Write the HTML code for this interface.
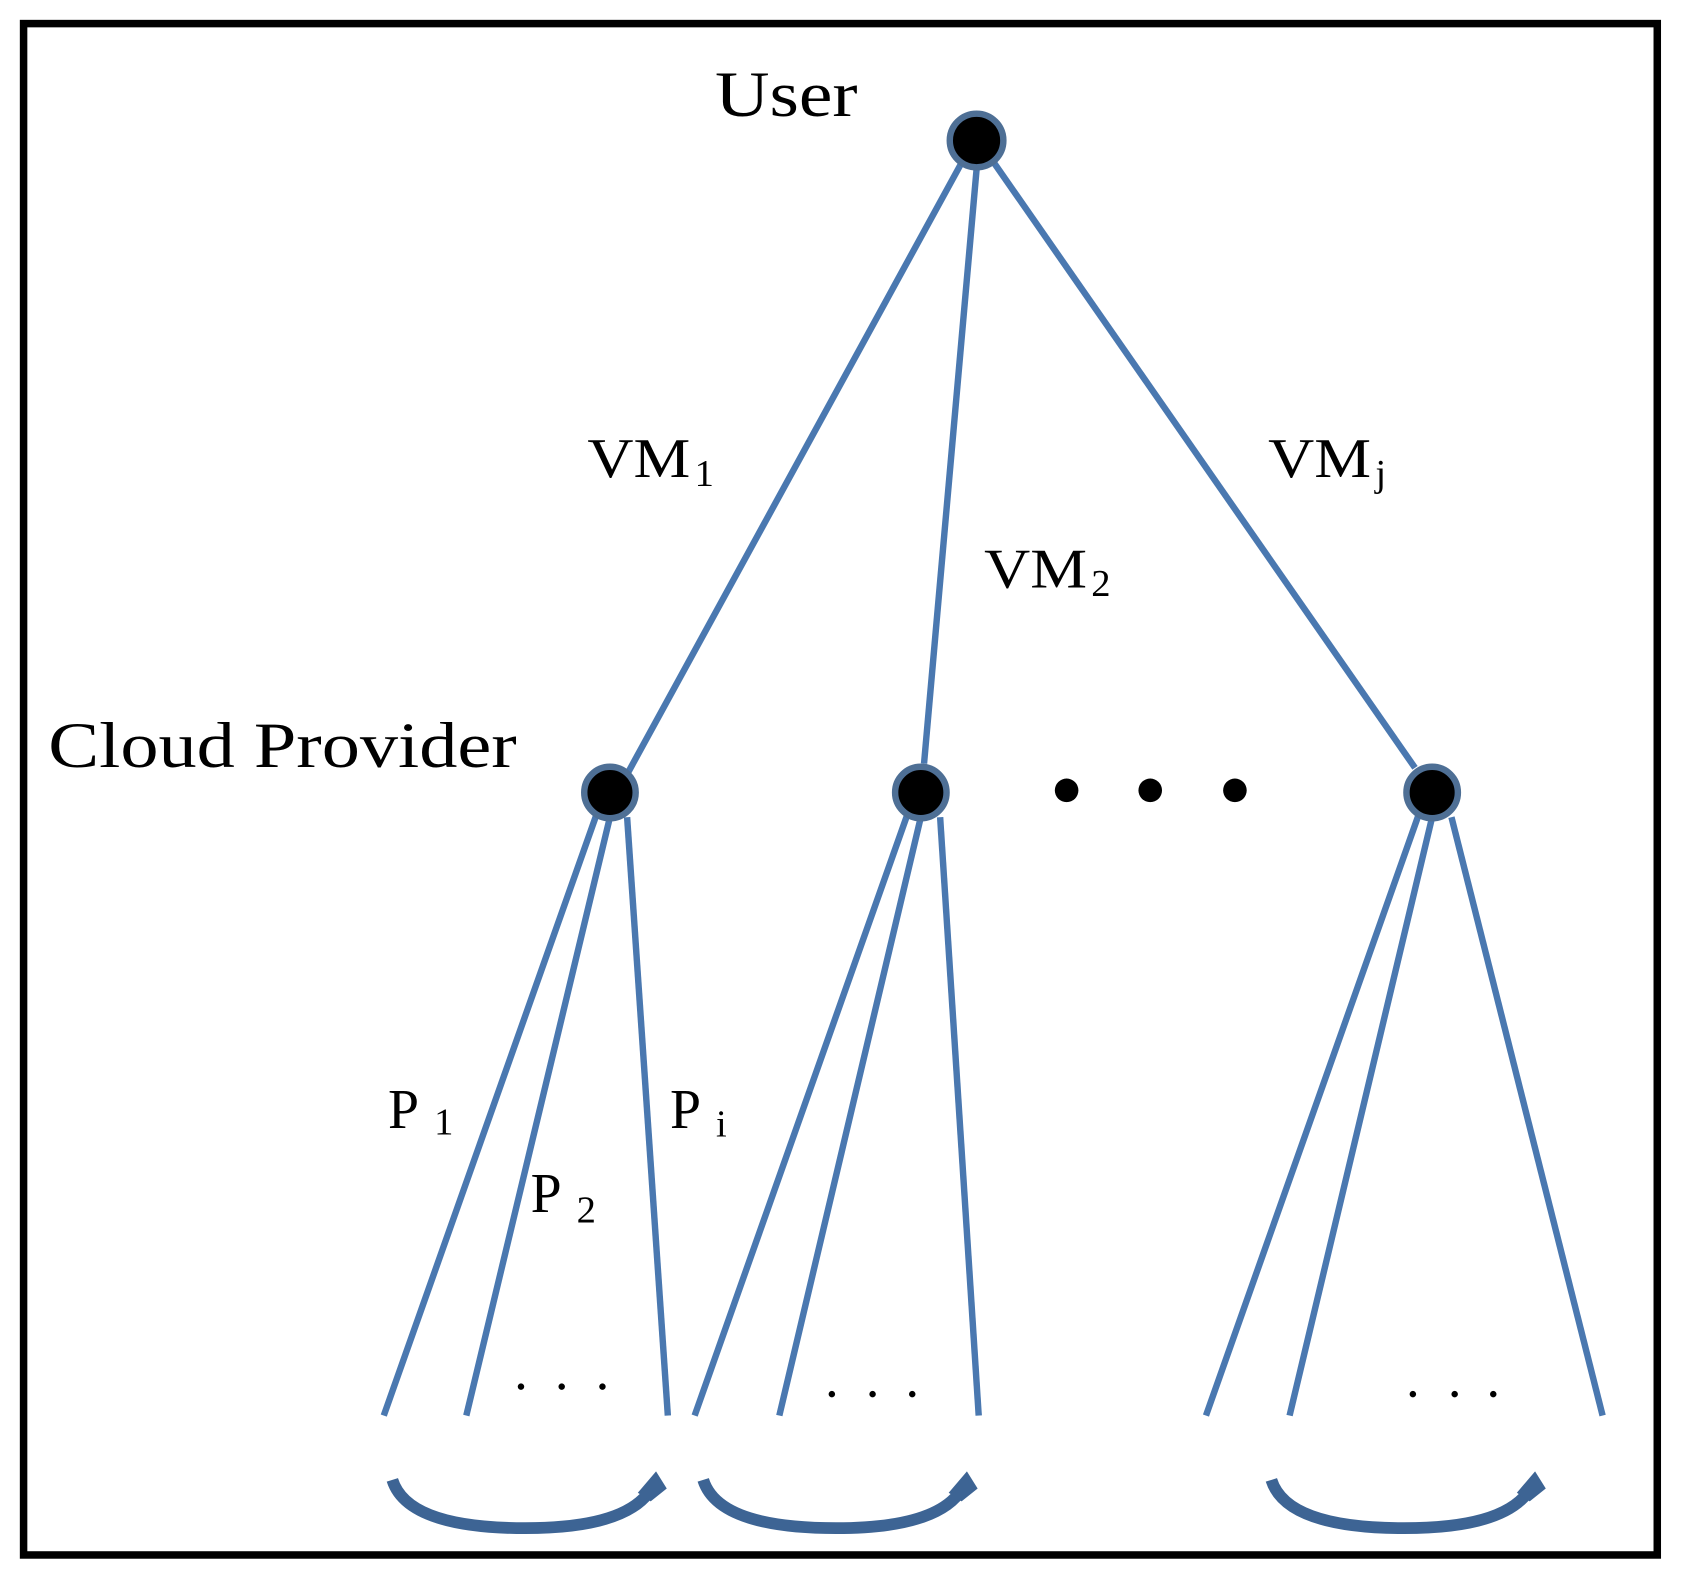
<!DOCTYPE html>
<html><head><style>html,body{margin:0;padding:0;background:#fff}svg{display:block}</style></head>
<body>
<svg width="1683" height="1585" viewBox="0 0 1570 1478" preserveAspectRatio="none" xmlns="http://www.w3.org/2000/svg">
<rect x="0" y="0" width="1570" height="1478" fill="#fff"/>
<rect x="22" y="22" width="1524" height="1428" fill="#fff" stroke="#000" stroke-width="7"/>
<g stroke="#4a78b0" stroke-width="6" fill="none" stroke-linecap="butt">
<line x1="898" y1="150" x2="585" y2="722"/>
<line x1="911" y1="158" x2="862" y2="712"/>
<line x1="926" y1="150" x2="1320" y2="716"/>
<line x1="557" y1="758" x2="358" y2="1320"/>
<line x1="569" y1="762" x2="435" y2="1320"/>
<line x1="585" y1="762" x2="623" y2="1320"/>
<line x1="847" y1="758" x2="648" y2="1320"/>
<line x1="859" y1="762" x2="727" y2="1320"/>
<line x1="877" y1="762" x2="913" y2="1320"/>
<line x1="1324" y1="758" x2="1125" y2="1320"/>
<line x1="1336" y1="762" x2="1203" y2="1320"/>
<line x1="1354" y1="762" x2="1495" y2="1320"/>
</g>
<g fill="#000" stroke="#4e6f95" stroke-width="6">
<circle cx="911" cy="131" r="25"/>
<circle cx="569" cy="739" r="24"/>
<circle cx="859" cy="739" r="24"/>
<circle cx="1336" cy="739" r="24"/>
</g>
<g fill="#000">
<circle cx="995" cy="737" r="11"/><circle cx="1073" cy="737" r="11"/><circle cx="1152" cy="737" r="11"/>
<circle cx="486" cy="1293" r="3"/><circle cx="524" cy="1293" r="3"/><circle cx="562" cy="1293" r="3"/>
<circle cx="776" cy="1300" r="3"/><circle cx="814" cy="1300" r="3"/><circle cx="851" cy="1300" r="3"/>
<circle cx="1318" cy="1300" r="3"/><circle cx="1357" cy="1300" r="3"/><circle cx="1393" cy="1300" r="3"/>
</g>
<g stroke="#3d6494" stroke-width="11" fill="none">
<path d="M366 1380 Q380 1425 490 1425 Q580 1425 605 1392"/>
<path d="M656 1380 Q670 1425 780 1425 Q870 1425 895 1392"/>
<path d="M1186 1380 Q1200 1425 1310 1425 Q1400 1425 1425 1392"/>
</g>
<g fill="#3d6494">
<polygon points="595,1392 612,1372 622,1388 607,1400"/>
<polygon points="885,1392 902,1372 912,1388 897,1400"/>
<polygon points="1415,1392 1432,1372 1442,1388 1427,1400"/>
</g>
<g font-family="Liberation Serif, serif" fill="#000">
<text x="667" y="108" font-size="60" textLength="133" lengthAdjust="spacingAndGlyphs">User</text>
<text x="45" y="715" font-size="60" textLength="437" lengthAdjust="spacingAndGlyphs">Cloud Provider</text>
<text x="548" y="445" font-size="52"><tspan textLength="96" lengthAdjust="spacingAndGlyphs">VM</tspan><tspan font-size="36" dx="4" dy="8">1</tspan></text>
<text x="918" y="548" font-size="52"><tspan textLength="96" lengthAdjust="spacingAndGlyphs">VM</tspan><tspan font-size="36" dx="4" dy="8">2</tspan></text>
<text x="1183" y="445" font-size="52"><tspan textLength="96" lengthAdjust="spacingAndGlyphs">VM</tspan><tspan font-size="36" dx="4" dy="8">j</tspan></text>
<text x="362" y="1052" font-size="52">P<tspan font-size="36" dx="14" dy="6">1</tspan></text>
<text x="495" y="1130" font-size="52">P<tspan font-size="36" dx="14" dy="10">2</tspan></text>
<text x="625" y="1052" font-size="52">P<tspan font-size="36" dx="14" dy="8">i</tspan></text>
</g>
</svg>
</body></html>
